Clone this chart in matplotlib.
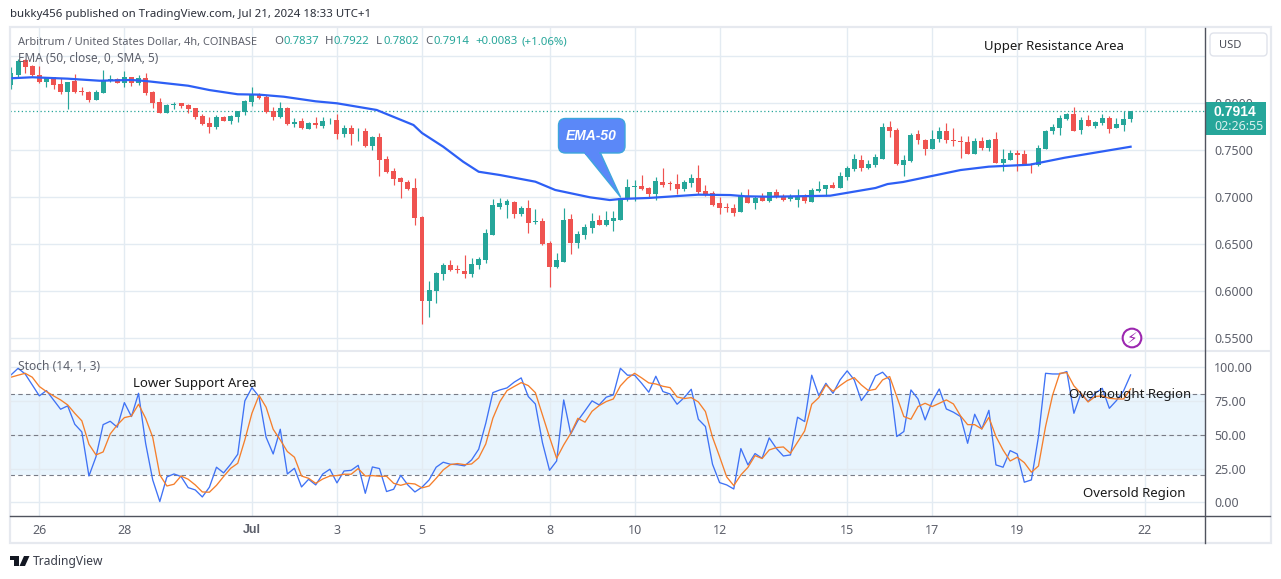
import matplotlib.pyplot as plt
from matplotlib.patches import Rectangle, FancyBboxPatch, Polygon
from matplotlib.lines import Line2D
from matplotlib.transforms import IdentityTransform

plt.rcParams['font.family'] = ['Noto Sans', 'DejaVu Sans']
plt.rcParams['font.size'] = 8.5

W = 1281
H = 579

opens = [.8195,.8301,.8461,.8397,.8301,.8227,.8276,.8205,.8120,.8237,
         .8131,.8120,.8035,.8113,.8241,.8255,.8220,.8276,.8220,.8266,
         .8120,.8014,.7900,.7978,.8000,.7978,.7947,.7865,.7787,.7748,
         .7854,.7815,.7858,.7911,.8017,.8096,.8071,.7915,.7854,.7950,
         .7780,.7812,.7730,.7791,.7762,.7808,.7822,.7677,.7734,.7702,
         .7705,.7549,.7642,.7408,.7280,.7205,.7167,.7098,.6794,.5900,
         .6003,.6184,.6279,.6237,.6215,.6184,.6279,.6333,.6599,.6896,
         .6918,.6950,.6822,.6886,.6737,.6747,.6513,.6258,.6311,.6769,
         .6513,.6599,.6673,.6758,.6705,.6747,.6758,.6981,.7113,.7120,
         .7098,.7035,.7162,.7152,.7141,.7088,.7152,.7205,.7067,.7045,
         .6939,.6896,.6886,.6843,.7013,.6939,.7003,.6960,.7056,.7013,
         .6981,.6971,.7013,.6950,.7067,.7088,.7131,.7103,.7216,.7301,
         .7397,.7312,.7344,.7408,.7748,.7716,.7344,.7386,.7674,.7610,
         .7514,.7620,.7705,.7610,.7599,.7588,.7461,.7599,.7525,.7620,
         .7365,.7397,.7471,.7461,.7354,.7344,.7514,.7705,.7737,.7833,
         .7886,.7716,.7822,.7759,.7791,.7844,.7737,.7769,.7837]
closes = [.8319,.8450,.8390,.8301,.8227,.8276,.8195,.8120,.8227,.8120,
          .8124,.8035,.8120,.8241,.8255,.8220,.8276,.8220,.8266,.8113,
          .8007,.7900,.7978,.7989,.7975,.7943,.7858,.7780,.7748,.7851,
          .7815,.7861,.7918,.8025,.8096,.8057,.7911,.7858,.7950,.7780,
          .7805,.7737,.7791,.7766,.7812,.7815,.7677,.7734,.7677,.7709,
          .7549,.7642,.7397,.7269,.7195,.7167,.7092,.6783,.5900,.6013,
          .6194,.6279,.6223,.6230,.6184,.6290,.6343,.6620,.6918,.6939,
          .6960,.6822,.6886,.6726,.6744,.6503,.6258,.6333,.6758,.6513,
          .6609,.6684,.6747,.6705,.6758,.6779,.6992,.7109,.7120,.7088,
          .7035,.7173,.7130,.7145,.7088,.7162,.7205,.7056,.7024,.6918,
          .6886,.6889,.6833,.7013,.6939,.6992,.6960,.7056,.7003,.6971,
          .7003,.7003,.6960,.7077,.7088,.7131,.7103,.7227,.7312,.7408,
          .7312,.7354,.7429,.7748,.7705,.7354,.7397,.7663,.7610,.7514,
          .7620,.7705,.7610,.7599,.7588,.7461,.7599,.7525,.7610,.7365,
          .7408,.7471,.7450,.7344,.7347,.7525,.7705,.7748,.7844,.7886,
          .7705,.7822,.7759,.7801,.7844,.7727,.7780,.7833,.7914]
highs = [.8390,.8468,.8468,.8408,.8397,.8276,.8276,.8266,.8227,.8312,
         .8170,.8135,.8142,.8354,.8301,.8266,.8344,.8276,.8301,.8326,
         .8135,.8053,.7993,.8017,.8000,.7993,.7947,.7886,.7858,.7879,
         .7865,.7876,.7918,.8035,.8170,.8106,.8085,.7957,.8010,.7957,
         .7840,.7844,.7805,.7858,.7851,.7840,.7886,.7769,.7769,.7741,
         .7734,.7652,.7681,.7440,.7315,.7213,.7184,.7205,.6801,.6109,
         .6205,.6301,.6333,.6279,.6386,.6354,.6365,.6659,.6981,.6992,
         .6981,.6960,.6907,.6971,.6875,.6779,.6535,.6407,.6886,.6822,
         .6641,.6716,.6833,.6811,.6854,.6854,.6999,.7194,.7184,.7237,
         .7109,.7216,.7311,.7173,.7247,.7184,.7247,.7343,.7130,.7067,
         .7003,.6939,.6928,.7056,.7088,.7013,.7045,.7056,.7088,.7035,
         .7035,.7088,.7035,.7098,.7173,.7131,.7163,.7269,.7333,.7461,
         .7450,.7397,.7461,.7791,.7812,.7737,.7450,.7684,.7716,.7620,
         .7716,.7748,.7791,.7737,.7652,.7652,.7631,.7642,.7620,.7695,
         .7514,.7503,.7503,.7503,.7365,.7557,.7716,.7780,.7876,.7897,
         .7961,.7854,.7876,.7812,.7886,.7865,.7844,.7918,.7922]
lows = [.8149,.8276,.8326,.8291,.8213,.8170,.8149,.8099,.7943,.8113,
        .8088,.8017,.8035,.8113,.8230,.8213,.8177,.8184,.8195,.8088,
        .7947,.7900,.7893,.7936,.7954,.7900,.7830,.7773,.7688,.7730,
        .7815,.7780,.7805,.7876,.7971,.8042,.7900,.7822,.7840,.7773,
        .7748,.7730,.7723,.7734,.7734,.7776,.7617,.7645,.7560,.7603,
        .7532,.7503,.7230,.7255,.7131,.6989,.7078,.6708,.5652,.5726,
        .5875,.6120,.6215,.6194,.6141,.6152,.6237,.6301,.6599,.6875,
        .6779,.6779,.6797,.6620,.6715,.6492,.6045,.6247,.6311,.6396,
        .6460,.6556,.6620,.6705,.6694,.6641,.6758,.6960,.6960,.7077,
        .6992,.6971,.7109,.7077,.7035,.7067,.7109,.7035,.7013,.6907,
        .6822,.6843,.6801,.6843,.6939,.6875,.6960,.6950,.6992,.6960,
        .6960,.6896,.6939,.6950,.7056,.7014,.7096,.7099,.7184,.7280,
        .7280,.7301,.7323,.7408,.7642,.7344,.7227,.7376,.7567,.7450,
        .7514,.7588,.7578,.7546,.7418,.7461,.7461,.7503,.7493,.7365,
        .7280,.7397,.7280,.7344,.7259,.7333,.7514,.7674,.7663,.7822,
        .7705,.7674,.7759,.7737,.7769,.7684,.7737,.7705,.7802]

ema_bar = [0,3,8,12.5,17,19,25,28,32,35,38.5,43,46,51.6,56.8,58,61,63.8,66,69,74,76.8,
           81.7,84.5,86,90,97,101.5,103.6,107,115.6,122,123.7,125.9,134,138,143.8,148.7,158]
ema_price = [.8266,.8277,.8262,.8240,.8248,.8237,.8187,.8141,.8096,.8092,.8070,.8021,.8000,.7929,.7769,.7684,.7538,.7379,.7272,.7237,.7166,.7078,
             .7000,.6971,.6982,.6993,.7028,.7024,.7011,.7006,.7017,.7099,.7141,.7163,.7290,.7326,.7347,.7421,.7538]

stoch_k = [94.4,99.3,95.1,87,78.9,82.8,75.9,69,71.5,57.9,
           52.2,19.6,33.9,57.6,60.1,55.7,73.9,63.6,80.8,43.8,
           16.7,0.7,18.9,21.1,19.2,11,9.3,4.1,11.3,26.1,
           21.9,28.3,35.7,75.2,85,78.4,48.3,35.9,54.2,21.1,
           25.3,11.5,17.2,13,21.1,24.6,14.5,23.3,23.8,27.5,
           6.8,26.3,25.1,8.1,9.8,20.1,13,7.8,11.3,16.7,
           26.1,29.8,28.3,28,27.1,31.5,39.4,58.6,81.3,83.3,
           84.8,89,92.2,78.4,72.9,44.3,23.8,30.7,75.9,50.7,
           60.6,67.8,75.2,72.2,77.9,79.6,99.3,94.2,94.2,88.2,
           81.6,93.4,82.1,80.3,72.7,77.6,83.8,61.6,56.2,28.3,
           14.7,13,10,39.9,27.8,36.2,32.7,47.8,40.1,34.4,
           35.2,63.1,59.9,94.2,79.1,88.2,80.8,90.7,97.4,90.7,
           75.4,82.5,93.7,96.4,90.7,48.8,52.5,83.3,76.6,61.1,
           74.7,84,69.2,66.8,63.6,43.8,65.3,54.4,68.2,27.8,
           26.1,38.4,35.9,15,16.7,48.8,95.6,95.1,95.1,96.9,
           66,80.8,74.7,80.8,84.5,69.7,75.4,82.5,94.4]
stoch_d = [92.7,94.2,95.6,92.7,85.8,82.1,78.9,75.9,72.2,66,
           60.4,43.1,35.2,37.4,50.7,57.4,62.8,64,72.7,62.3,
           48.3,20.4,12.2,13.5,19.6,17.2,13,7.8,7.6,12.7,
           19.2,25.3,29,46.3,66,79.3,70.5,54.2,46.3,37.7,
           33.5,19.6,17.9,14.2,17.4,19.6,19.9,20.9,20.9,25.1,
           19.6,19.9,19.4,19.4,14.2,12.7,14.2,13.7,10.8,12.2,
           17.9,24.1,28,28.8,28,28.5,33,43.3,62.3,74.7,
           82.8,85.8,88.7,86.5,81.3,64.8,48.3,32.7,42.6,51.2,
           62.3,59.4,67.5,71.7,74.7,76.6,86.3,91.9,95.6,92.2,
           88.5,87.7,86,85,78.1,76.9,77.6,74.4,67.3,48.3,
           33.9,18.9,12.5,20.4,26,34.7,32.5,38.9,40.6,41.1,
           36.4,44.6,52.9,72.7,77.6,87,82.3,86.5,90.2,92.4,
           87,82.8,83.8,90.7,93.2,78.4,63.6,61.6,71,73.4,
           71,73.4,75.9,72.9,64.1,57.6,57.6,54.4,63,48.8,
           38.9,30.7,33.5,29.5,22.4,27,56.2,79.6,95.6,96.1,
           86.3,80.8,74.4,78.4,78.9,77.1,76.6,76.6,84]

date_bars = [4,16,34,46,58,76,88,100,118,130,142,160]
date_labels = ['26','28','Jul','3','5','8','10','12','15','17','19','22']
price_ticks = [0.55,0.60,0.65,0.70,0.75,0.80]
price_grid = [0.55,0.60,0.65,0.70,0.75,0.80,0.85]
stoch_ticks = [0,25,50,75,100]
last_price = 0.7914

bars = list(range(len(opens)))
colors = ['#26a69a' if closes[i] >= opens[i] else '#ef5350' for i in bars]
x_left = -0.14
x_right = 168.5
grid_color = '#e3ebf2'
text_color = '#5d606b'
callout_fill = '#5b88f8'
callout_edge = '#3ea6dc'

plt.figure(figsize=(W/100, H/100), dpi=100)

# price pane
plt.axes([10/W, 1-351/H, 1195/W, 323/H])
plt.vlines(date_bars, 0.5, 0.9, color=grid_color, lw=1, zorder=0)
plt.hlines(price_grid, x_left, x_right, color=grid_color, lw=1, zorder=0)
plt.vlines(bars, lows, highs, color=colors, lw=0.85, zorder=2)
plt.bar(bars, [abs(closes[i]-opens[i]) for i in bars], bottom=[min(opens[i],closes[i]) for i in bars],
        width=0.7, color=colors, zorder=3)
plt.plot(ema_bar, ema_price, color='#2d5ff5', lw=1.6, zorder=4)
plt.axhline(last_price, color='#26a69a', lw=0.9, ls=(0, (1, 2)), zorder=1)
plt.xlim(x_left, x_right)
plt.ylim(0.5365, 0.8801)
plt.xticks([])
plt.yticks(price_ticks, ['%.4f' % p for p in price_ticks], color=text_color, fontsize=9)
plt.tick_params(axis='y', left=False, labelleft=False, right=False, labelright=True, length=0, pad=6.5)
for side in ['top', 'left', 'bottom', 'right']:
    plt.gca().spines[side].set_visible(False)

# stochastic pane
plt.axes([10/W, 1-516/H, 1195/W, 165/H])
plt.axhspan(20, 80, color='#2196f3', alpha=0.1, lw=0, zorder=0)
plt.vlines(date_bars, -20, 120, color=grid_color, lw=1, zorder=1)
plt.hlines(stoch_ticks, x_left, x_right, color=grid_color, lw=1, zorder=1)
plt.hlines([20, 50, 80], x_left, x_right, color='#787b86', lw=0.8, ls=(0, (4, 3)), zorder=2)
plt.plot(bars, stoch_k, color='#3f72f5', lw=0.95, zorder=3)
plt.plot(bars, stoch_d, color='#f57f2c', lw=0.95, zorder=4)
plt.xlim(x_left, x_right)
plt.ylim(-10, 112.1)
plt.xticks(date_bars, date_labels, color=text_color, fontsize=9)
plt.yticks(stoch_ticks, ['%.2f' % s for s in stoch_ticks], color=text_color, fontsize=9)
plt.tick_params(axis='y', left=False, labelleft=False, right=False, labelright=True, length=0, pad=6.5)
plt.tick_params(axis='x', bottom=False, length=0, pad=5.5)
plt.gca().get_xticklabels()[2].set_family('Liberation Sans')
plt.gca().get_xticklabels()[2].set_fontweight('bold')
for side in ['top', 'left', 'bottom', 'right']:
    plt.gca().spines[side].set_visible(False)

# frame, axis lines and the price tag
fig = plt.gcf()
px = IdentityTransform()
fig.add_artist(Rectangle((9.5, H-543), 1261, 516, fc='none', ec='#e6e9ef', lw=1.6, transform=px))
fig.add_artist(Line2D([10/W, 1270/W], [1-351/H, 1-351/H], color='#e6e9ef', lw=1.5))
fig.add_artist(Line2D([10/W, 1270/W], [1-516/H, 1-516/H], color='#50535e', lw=1))
fig.add_artist(Line2D([1205/W, 1205/W], [1-28/H, 1-543/H], color='#50535e', lw=1))
fig.add_artist(Rectangle((1206, H-135), 60, 33, fc='#26a69a', ec='none', transform=px))
fig.add_artist(FancyBboxPatch((1210, H-56), 57, 23, boxstyle='round,pad=0,rounding_size=4', fc='white',
                              ec='#e0e3eb', lw=1, transform=px))
plt.figtext(1214/W, 1-112/H, '0.7914', color='white', fontweight='bold', fontsize=10, family='Liberation Sans', va='center')
plt.figtext(1214/W, 1-126/H, '02:26:55', color='#d9f0ee', fontsize=9, va='center')
plt.figtext(1219/W, 1-45/H, 'USD', color='#4a4d57', fontsize=8, va='center')

# callout
fig.add_artist(Polygon([(584, H-152), (600, H-152), (620.5, H-197)], fc=callout_fill, ec=callout_edge, lw=1, zorder=5, transform=px))
fig.add_artist(FancyBboxPatch((558.5, H-153), 66.5, 34.5, boxstyle='round,pad=0,rounding_size=7', fc=callout_fill,
                              ec=callout_edge, lw=1, zorder=6, transform=px))
fig.add_artist(Polygon([(585, H-151), (599, H-151), (599, H-155), (585, H-155)], fc=callout_fill, ec='none', zorder=7, transform=px))
plt.figtext(591.5/W, 1-136/H, 'EMA-50', color='white', style='italic', fontweight='bold', fontsize=10,
            family='Liberation Sans', ha='center', va='center', zorder=8)

# lightning mark
plt.figtext(1132/W, 1-338/H, '\u26a1', color='#9c27b0', fontsize=11, ha='center', va='center', family='DejaVu Sans',
            bbox=dict(boxstyle='circle,pad=0.12', fc='white', ec='#9c27b0', lw=1.5))

# texts
plt.figtext(10/W, 1-15/H, 'bukky456 published on TradingView.com, Jul 21, 2024 18:33 UTC+1', color='#2a2e39', fontsize=8.25, va='center')
plt.figtext(18/W, 1-42/H, 'Arbitrum / United States Dollar, 4h, COINBASE', color='#5d606b', fontsize=7.95, va='center')
plt.figtext(18/W, 1-59/H, 'EMA (50, close, 0, SMA, 5)', color='#5d606b', fontsize=8.5, va='center')
plt.figtext(18/W, 1-367/H, 'Stoch (14, 1, 3)', color='#5d606b', fontsize=8.7, va='center')
for x, t, c in [(274, 'O', '#5d606b'), (283, '0.7837', '#26a69a'), (325, 'H', '#5d606b'), (333, '0.7922', '#26a69a'),
                (376, 'L', '#5d606b'), (383, '0.7802', '#26a69a'), (425, 'C', '#5d606b'), (433, '0.7914', '#26a69a'),
                (475, '+0.0083', '#26a69a'), (521, '(+1.06%)', '#26a69a')]:
    plt.figtext(x/W, 1-42/H, t, color=c, fontsize=8.2, va='center')
plt.figtext(984/W, 1-46.5/H, 'Upper Resistance Area', color='#1a1a1a', fontsize=9.5, va='center')
plt.figtext(133/W, 1-383.5/H, 'Lower Support Area', color='#1a1a1a', fontsize=9.5, va='center')
plt.figtext(1069/W, 1-394.5/H, 'Overbought Region', color='#1a1a1a', fontsize=9.5, va='center')
plt.figtext(1083/W, 1-493.5/H, 'Oversold Region', color='#1a1a1a', fontsize=9.5, va='center')

# logo
fig.add_artist(Polygon([(10, H-556), (19, H-556), (19, H-566), (14, H-566), (14, H-560), (10, H-560)],
                       fc='#131722', ec='none', transform=px))
fig.add_artist(Polygon([(24, H-556), (29.5, H-556), (25, H-566), (19.5, H-566)],
                       fc='#131722', ec='none', transform=px))
plt.figtext(33/W, 1-561/H, 'TradingView', color='#3a3e4a', fontsize=8.7, va='center')

plt.savefig('out.png', dpi=100)
